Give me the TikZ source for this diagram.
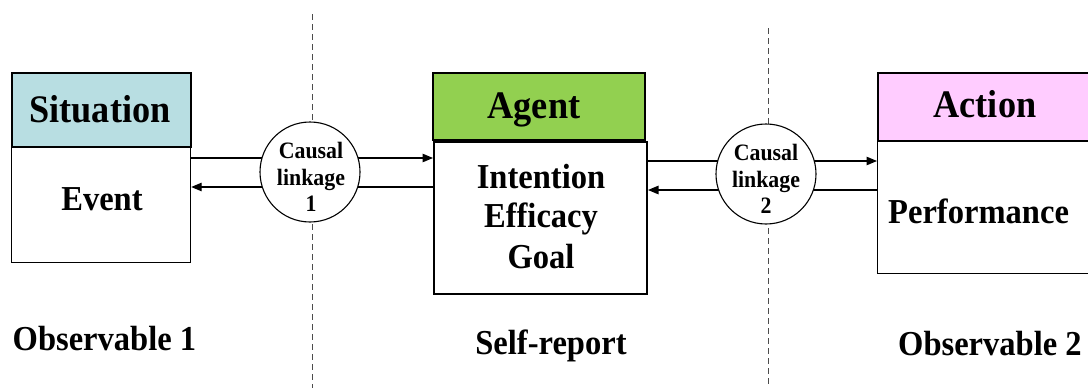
\documentclass[tikz,border=0pt]{standalone}
\usepackage{fontspec}
\setmainfont{Liberation Serif}[FakeStretch=0.93]
\usetikzlibrary{arrows.meta}
\definecolor{sitcol}{HTML}{B8DEE2}
\definecolor{agcol}{HTML}{92D050}
\definecolor{accol}{HTML}{FFCCFF}
\definecolor{dashcol}{gray}{0.3}
\tikzset{
  headbox/.style={draw=black, line width=2pt, rectangle, anchor=north west, inner sep=0pt},
  bodybox/.style={draw=black, line width=1.2pt, rectangle, anchor=north west, inner sep=0pt, fill=white},
  headtxt/.style={font=\fontsize{39}{44}\selectfont\bfseries, anchor=base, inner sep=0pt},
  bodytxt/.style={font=\fontsize{35}{40}\selectfont\bfseries, anchor=base, inner sep=0pt},
  linkcirc/.style={circle, draw=black, line width=1.1pt, fill=white, minimum size=100pt, inner sep=0pt},
  linktxt/.style={align=center, inner sep=0pt, font=\fontsize{23.5}{26.5}\selectfont\bfseries},
  conn/.style={line width=1.2pt},
  arr/.style={conn, -{Triangle[length=10.5pt,width=8.5pt]}},
  divider/.style={draw=dashcol, line width=1pt, dash pattern=on 6pt off 4pt}
}
\begin{document}
\begin{tikzpicture}[x=1pt,y=-1pt]
\useasboundingbox (0,0) rectangle (1088,388);
\clip (0,0) rectangle (1088,388);
\fill[white] (0,0) rectangle (1088,388);

% dividers
\coordinate (d1top) at (312,14);
\coordinate (d1bot) at (312,390);
\coordinate (d2top) at (768,28);
\coordinate (d2bot) at (768,390);
\draw[divider] (d1top) -- (d1bot);
\draw[divider] (d2top) -- (d2bot);

% boxes
\node[bodybox, minimum width=179pt, minimum height=116pt] (sitbody) at (11,146) {};
\node[headbox, fill=sitcol, minimum width=179pt, minimum height=74pt] (sithead) at (11,72) {};

\node[bodybox, line width=2pt, minimum width=213pt, minimum height=152pt] (agbody) at (433,141) {};
\node[headbox, fill=agcol, minimum width=212pt, minimum height=67pt] (aghead) at (432,72) {};

\node[bodybox, minimum width=220pt, minimum height=133pt] (acbody) at (877,140) {};
\node[headbox, fill=accol, minimum width=220pt, minimum height=68pt] (achead) at (877,72) {};

% connectors
\coordinate (y1a) at (0,158);
\coordinate (y1b) at (0,187);
\coordinate (y2a) at (0,161);
\coordinate (y2b) at (0,190);
\draw[arr] (sitbody.east |- y1a) -- (agbody.west |- y1a);
\draw[arr] (agbody.west |- y1b) -- (sitbody.east |- y1b);
\draw[arr] (agbody.east |- y2a) -- (acbody.west |- y2a);
\draw[arr] (acbody.west |- y2b) -- (agbody.east |- y2b);

% causal linkage circles
\node[linkcirc] (cl1) at (310,172) {};
\node[linkcirc] (cl2) at (766,174) {};
\node[linktxt] (cl1txt) at (311,177) {Causal\\linkage\\1};
\node[linktxt] (cl2txt) at (766,179) {Causal\\linkage\\2};

% texts
\node[headtxt] (tsit) at (100,122.5) {Situation};
\node[headtxt] (tag) at (534,118) {Agent};
\node[headtxt] (tac) at (985,117.5) {Action};

\node[bodytxt] (tev) at (102,210) {Event};
\node[bodytxt] (tint) at (541,188) {Intention};
\node[bodytxt] (teff) at (541,227) {Efficacy};
\node[bodytxt] (tgoal) at (541,268) {Goal};
\node[bodytxt, anchor=base west] (tperf) at (888,223) {Performance};

\node[bodytxt, anchor=base west] (obs1) at (12.5,350) {Observable 1};
\node[bodytxt] (self) at (551,354) {Self-report};
\node[bodytxt, anchor=base west] (obs2) at (898,355) {Observable 2};
\end{tikzpicture}
\end{document}
